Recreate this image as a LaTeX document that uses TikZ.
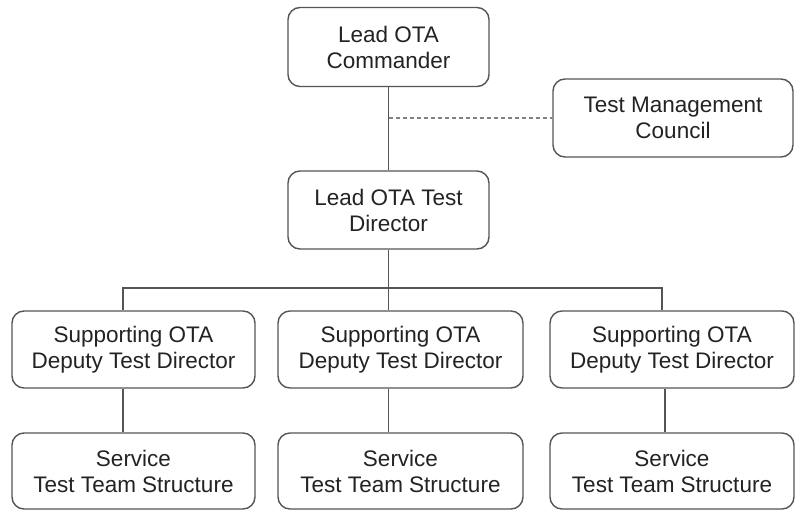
\documentclass[tikz,border=0pt]{standalone}
\usepackage{fontspec}
\setmainfont{Liberation Sans}
\begin{document}
\begin{tikzpicture}[x=1pt,y=-1pt,
  box/.style={draw=linegray, line width=1.4pt, rounded corners=12pt, fill=white,
    align=center, inner sep=0pt, text=textgray,
    font=\fontsize{22.5}{26}\selectfont},
  conn/.style={draw=linegray, line width=1.4pt},
  dashconn/.style={draw=dashgray, line width=1.6pt, dash pattern=on 4pt off 3pt}]
\definecolor{linegray}{RGB}{85,85,85}
\definecolor{dashgray}{RGB}{130,130,130}
\definecolor{textgray}{RGB}{35,35,35}
\useasboundingbox[fill=white] (0,0) rectangle (796,512);
% nodes
\node[box, minimum width=201pt, minimum height=79pt] (cmd) at (388.5,47) {Lead OTA\\Commander};
\node[box, minimum width=240pt, minimum height=78pt] (tmc) at (673,118) {Test Management\\Council};
\node[box, minimum width=201pt, minimum height=78pt] (dir) at (388.5,210) {Lead OTA Test\\Director};
\node[box, minimum width=243pt, minimum height=77pt] (depL) at (133.5,349.5) {Supporting OTA\\Deputy Test Director};
\node[box, minimum width=245pt, minimum height=77pt] (depM) at (400.5,349.5) {Supporting OTA\\Deputy Test Director};
\node[box, minimum width=244pt, minimum height=77pt] (depR) at (672,349.5) {Supporting OTA\\Deputy Test Director};
\node[box, minimum width=243pt, minimum height=76pt] (svcL) at (133.5,471) {Service\\Test Team Structure};
\node[box, minimum width=245pt, minimum height=76pt] (svcM) at (400.5,471) {Service\\Test Team Structure};
\node[box, minimum width=244pt, minimum height=76pt] (svcR) at (672,471) {Service\\Test Team Structure};
% bus coordinates
\coordinate (busL) at (123,288);
\coordinate (busR) at (662,288);
\coordinate (lowR) at (665,0);
% connectors
\path[conn] (cmd.south) -- (dir.north);
\path[dashconn] (cmd.south |- tmc.west) -- (tmc.west);
\path[conn] (dir.south) -- (dir.south |- depM.north);
\path[conn] (busL |- depL.north) -- (busL) -- (busR) -- (busR |- depR.north);
\path[conn] (depL.south -| busL) -- (svcL.north -| busL);
\path[conn] (dir.south |- depM.south) -- (dir.south |- svcM.north);
\path[conn] (depR.south -| lowR) -- (svcR.north -| lowR);
\end{tikzpicture}
\end{document}
